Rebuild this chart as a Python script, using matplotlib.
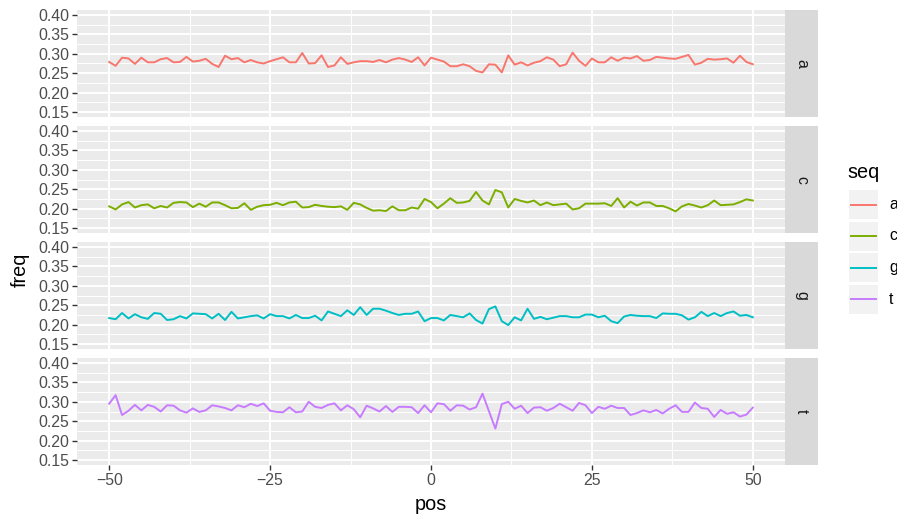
import numpy as np
import matplotlib
matplotlib.use('Agg')
import matplotlib.pyplot as plt
from matplotlib.patches import Rectangle
from matplotlib.lines import Line2D

plt.rcParams['font.family'] = ['Liberation Sans', 'DejaVu Sans']

# positions -50..50
pos = np.arange(-50, 51)

freq_a = [0.279, 0.269, 0.290, 0.288, 0.274, 0.290, 0.278, 0.278, 0.286, 0.289,
          0.278, 0.279, 0.292, 0.280, 0.282, 0.287, 0.274, 0.266, 0.295, 0.286,
          0.289, 0.278, 0.284, 0.278, 0.275, 0.281, 0.286, 0.291, 0.278, 0.278,
          0.302, 0.275, 0.276, 0.296, 0.266, 0.270, 0.291, 0.274, 0.278, 0.281,
          0.281, 0.279, 0.284, 0.278, 0.285, 0.289, 0.285, 0.279, 0.291, 0.270,
          0.290,
          0.285, 0.280, 0.268, 0.268, 0.273, 0.268, 0.256, 0.252, 0.273, 0.272,
          0.252, 0.296, 0.272, 0.278, 0.270, 0.277, 0.281, 0.291, 0.285, 0.268,
          0.273, 0.303, 0.282, 0.269, 0.288, 0.278, 0.278, 0.291, 0.282, 0.290,
          0.288, 0.294, 0.282, 0.284, 0.292, 0.290, 0.288, 0.287, 0.292, 0.297,
          0.272, 0.277, 0.287, 0.285, 0.286, 0.288, 0.277, 0.295, 0.279, 0.273]

freq_c = [0.206, 0.198, 0.211, 0.217, 0.203, 0.209, 0.211, 0.201, 0.207, 0.203,
          0.215, 0.217, 0.216, 0.204, 0.213, 0.205, 0.216, 0.216, 0.209, 0.201,
          0.202, 0.214, 0.197, 0.205, 0.209, 0.210, 0.215, 0.209, 0.216, 0.218,
          0.203, 0.204, 0.210, 0.207, 0.205, 0.204, 0.206, 0.197, 0.215, 0.211,
          0.202, 0.195, 0.196, 0.194, 0.206, 0.196, 0.196, 0.203, 0.200, 0.225,
          0.217,
          0.201, 0.213, 0.227, 0.215, 0.216, 0.220, 0.243, 0.221, 0.211, 0.248,
          0.242, 0.203, 0.225, 0.220, 0.216, 0.221, 0.209, 0.216, 0.209, 0.211,
          0.213, 0.198, 0.201, 0.213, 0.213, 0.213, 0.214, 0.207, 0.227, 0.203,
          0.218, 0.208, 0.216, 0.216, 0.207, 0.207, 0.201, 0.193, 0.206, 0.212,
          0.208, 0.203, 0.209, 0.221, 0.209, 0.210, 0.211, 0.217, 0.224, 0.221]

freq_g = [0.217, 0.214, 0.230, 0.216, 0.227, 0.219, 0.215, 0.230, 0.228, 0.212,
          0.214, 0.222, 0.216, 0.229, 0.228, 0.227, 0.216, 0.228, 0.212, 0.233,
          0.216, 0.219, 0.222, 0.224, 0.216, 0.227, 0.222, 0.222, 0.216, 0.225,
          0.217, 0.217, 0.223, 0.211, 0.234, 0.228, 0.222, 0.237, 0.225, 0.245,
          0.225, 0.241, 0.241, 0.236, 0.230, 0.225, 0.228, 0.228, 0.234, 0.209,
          0.217,
          0.217, 0.211, 0.225, 0.222, 0.219, 0.229, 0.212, 0.203, 0.240, 0.247,
          0.209, 0.199, 0.219, 0.211, 0.241, 0.215, 0.220, 0.214, 0.218, 0.222,
          0.222, 0.219, 0.219, 0.226, 0.226, 0.219, 0.223, 0.209, 0.204, 0.221,
          0.225, 0.223, 0.222, 0.222, 0.217, 0.229, 0.228, 0.228, 0.224, 0.213,
          0.219, 0.233, 0.222, 0.230, 0.222, 0.230, 0.234, 0.223, 0.225, 0.219]

freq_t = [0.295, 0.317, 0.266, 0.277, 0.292, 0.278, 0.292, 0.287, 0.275, 0.291,
          0.290, 0.278, 0.272, 0.283, 0.274, 0.278, 0.291, 0.288, 0.284, 0.278,
          0.291, 0.286, 0.295, 0.289, 0.296, 0.277, 0.274, 0.273, 0.286, 0.273,
          0.275, 0.300, 0.287, 0.284, 0.292, 0.296, 0.278, 0.291, 0.281, 0.260,
          0.290, 0.283, 0.275, 0.289, 0.274, 0.287, 0.287, 0.286, 0.271, 0.291,
          0.273,
          0.296, 0.294, 0.277, 0.291, 0.290, 0.280, 0.286, 0.321, 0.276, 0.231,
          0.294, 0.300, 0.282, 0.290, 0.271, 0.285, 0.286, 0.277, 0.284, 0.295,
          0.286, 0.277, 0.297, 0.291, 0.271, 0.287, 0.282, 0.290, 0.284, 0.284,
          0.266, 0.271, 0.278, 0.273, 0.279, 0.270, 0.282, 0.291, 0.274, 0.274,
          0.298, 0.284, 0.282, 0.261, 0.279, 0.269, 0.273, 0.262, 0.267, 0.285]

seqs = ['a', 'c', 'g', 't']
series = [freq_a, freq_c, freq_g, freq_t]
colors = ['#F8766D', '#7CAE00', '#00BFC4', '#C77CFF']

W, H = 897, 515
fig = plt.figure(figsize=(W / 100, H / 100), dpi=100)

# panel extents in pixels (top, bottom)
panel_rows = [(10, 117), (126, 233), (242, 349), (358, 465)]
px_left, px_right = 77, 785
strip_w = 33

yticks = [0.15, 0.20, 0.25, 0.30, 0.35, 0.40]
yminor = [0.175, 0.225, 0.275, 0.325, 0.375]
xticks = [-50, -25, 0, 25, 50]
xminor = [-37.5, -12.5, 12.5, 37.5]

for i, (s, vals, col) in enumerate(zip(seqs, series, colors)):
    top, bot = panel_rows[i]
    ax = fig.add_axes([px_left / W, 1 - bot / H, (px_right - px_left) / W, (bot - top) / H])
    ax.set_facecolor('#EBEBEB')
    for yv in yminor:
        ax.axhline(yv, color='white', lw=0.7, zorder=0)
    for xv in xminor:
        ax.axvline(xv, color='white', lw=0.7, zorder=0)
    for yv in yticks:
        ax.axhline(yv, color='white', lw=1.4, zorder=0)
    for xv in xticks:
        ax.axvline(xv, color='white', lw=1.4, zorder=0)
    ax.plot(pos, vals, color=col, lw=1.4, zorder=3)
    ax.set_xlim(-55, 55)
    ax.set_ylim(0.1375, 0.4125)
    ax.set_yticks(yticks)
    ax.set_yticklabels([f'{v:.2f}' for v in yticks])
    ax.set_xticks(xticks)
    ax.set_xticklabels(['\u221250', '\u221225', '0', '25', '50'])
    for sp in ax.spines.values():
        sp.set_visible(False)
    ax.tick_params(axis='both', colors='#333333', labelcolor='#4D4D4D',
                   labelsize=11.4, length=3.5, width=1.0, pad=2)
    if i < 3:
        ax.tick_params(axis='x', length=0, labelbottom=False)

    # facet strip on the right
    sax = fig.add_axes([px_right / W, 1 - bot / H, strip_w / W, (bot - top) / H])
    sax.set_facecolor('#D9D9D9')
    sax.set_xticks([])
    sax.set_yticks([])
    for sp in sax.spines.values():
        sp.set_visible(False)
    sax.text(0.5, 0.5, s, rotation=-90, ha='center', va='center',
             color='#1A1A1A', fontsize=11.4, transform=sax.transAxes)

fig.text(431 / W, 1 - 505 / H, 'pos', ha='center', va='center', fontsize=14.3)
fig.text(20 / W, 1 - 270 / H, 'freq', ha='center', va='center', rotation=90, fontsize=14.3)

# legend drawn in pixel coordinates
lax = fig.add_axes([0, 0, 1, 1], zorder=5)
lax.set_xlim(0, W)
lax.set_ylim(H, 0)
lax.axis('off')
lax.text(847, 172, 'seq', ha='left', va='center', fontsize=14.3)
for k, (s, col) in enumerate(zip(seqs, colors)):
    y0 = 190 + k * 31.5
    lax.add_patch(Rectangle((849, y0), 29, 29, facecolor='#F2F2F2', edgecolor='none'))
    lax.add_line(Line2D([851, 876], [y0 + 14.5, y0 + 14.5], color=col, lw=1.4))
    lax.text(889, y0 + 14.5, s, ha='left', va='center', fontsize=11.4, color='black')

fig.savefig('out.png', dpi=100)
